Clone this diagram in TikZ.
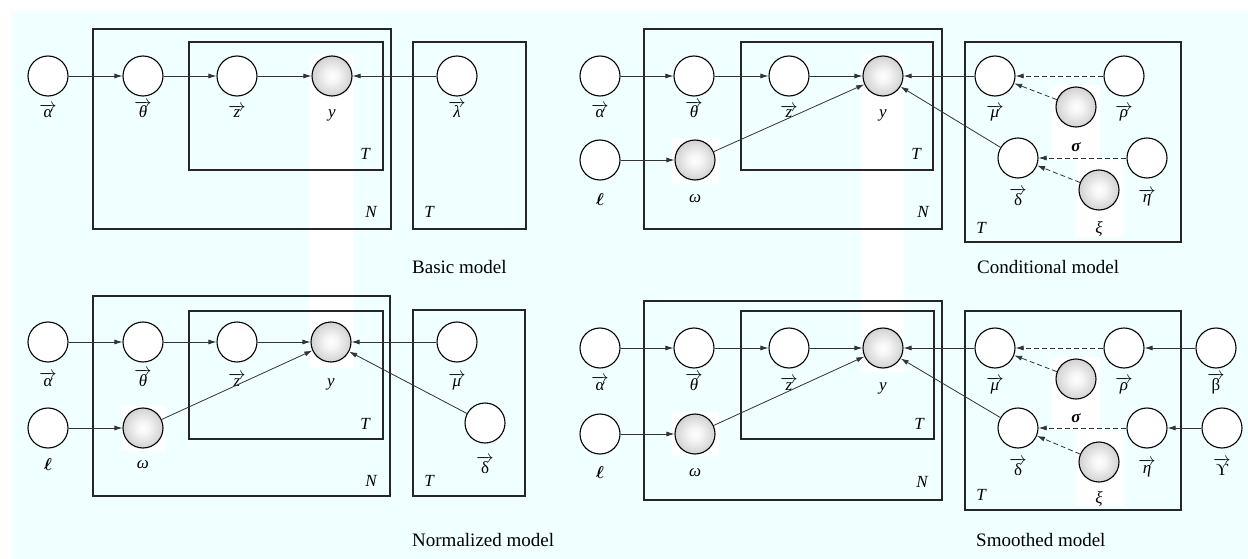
\documentclass[tikz,border=0pt]{standalone}
\usepackage{fontspec}
\setmainfont{Liberation Serif}
\usetikzlibrary{arrows.meta}
\definecolor{skybg}{RGB}{240,255,255}
\pgfdeclareradialshading{obsball}{\pgfpoint{0bp}{0bp}}{color(0bp)=(white); color(8bp)=(white!96!black); color(50bp)=(black!38)}
\newcommand{\vlab}[1]{$\overrightarrow{\mbox{#1}}$}
\newcommand{\elllab}{{\boldmath$\ell$}}
\tikzset{
  var/.style={circle,draw=black,line width=1.1pt,minimum size=40pt,inner sep=0pt,fill=white},
  obs/.style={var,shading=obsball},
  lbl/.style={anchor=base,inner sep=0pt,font=\fontsize{17}{19}\selectfont},
  plate/.style={draw=black!85,line width=1.2pt},
  platelbl/.style={anchor=base,inner sep=0pt,font=\fontsize{17}{19}\selectfont\itshape},
  caption/.style={anchor=base west,inner sep=0pt,font=\fontsize{19}{22}\selectfont},
  edge/.style={draw=black!80,line width=0.8pt,-{Latex[length=8pt,width=5pt]}},
  dedge/.style={edge,dash pattern=on 5pt off 3pt},
  blank/.style={fill=white,draw=none}
}
\begin{document}
\begin{tikzpicture}[x=1pt,y=-1pt]
\useasboundingbox (0,0) rectangle (1248,559);

% Background and white patches
\fill[skybg] (11,11) rectangle (1248,559);
\fill[blank] (310,55) rectangle (353,368);
\fill[blank] (862,55) rectangle (904,372);
\fill[blank] (121,406) rectangle (166,451);
\fill[blank] (672,138) rectangle (719,184);
\fill[blank] (672,412) rectangle (719,456);
\fill[blank] (1052,85) rectangle (1100,160);
\fill[blank] (1075,160) rectangle (1123,237);
\fill[blank] (1052,357) rectangle (1100,430);
\fill[blank] (1075,430) rectangle (1123,506);

% ---------------- Basic model ----------------
% Drawing plates
\draw[plate] (93,29) rectangle (391,229);
\draw[plate] (189,42) rectangle (383,170);
\draw[plate] (413,42) rectangle (526,229);
\node[platelbl] (baTin) at (365,160) {T};
\node[platelbl] (baN) at (371,217) {N};
\node[platelbl] (baTout) at (429,217) {T};

% Marking nodes
\node[var] (baalpha) at (48,76) {};
\node[var] (batheta) at (143,76) {};
\node[var] (baz) at (237,76) {};
\node[obs] (bay) at (332,76) {};
\node[var] (balambda) at (457,76) {};
\node[lbl] (balalpha) at (48,118) {\vlab{\itshape α}};
\node[lbl] (baltheta) at (143,118) {\vlab{\itshape θ}};
\node[lbl] (balz) at (237,118) {\vlab{\itshape z}};
\node[lbl] (baly) at (332,118) {\itshape y};
\node[lbl] (ballambda) at (457,118) {\vlab{\itshape λ}};

% Drawing edges
\draw[edge] (baalpha) -- (batheta);
\draw[edge] (batheta) -- (baz);
\draw[edge] (baz) -- (bay);
\draw[edge] (balambda) -- (bay);

\node[caption] (bacap) at (412,273) {Basic model};

% ---------------- Normalized model ----------------
% Drawing plates
\draw[plate] (93,296) rectangle (390,496);
\draw[plate] (189,311) rectangle (383,439);
\draw[plate] (413,310) rectangle (525,496);
\node[platelbl] (noTin) at (365,429) {T};
\node[platelbl] (noN) at (371,486) {N};
\node[platelbl] (noTout) at (429,486) {T};

% Marking nodes
\node[var] (noalpha) at (48,342) {};
\node[var] (notheta) at (143,342) {};
\node[var] (noz) at (237,342) {};
\node[obs] (noy) at (331,342) {};
\node[var] (nomu) at (457,342) {};
\node[var] (noell) at (48,428) {};
\node[obs] (noomega) at (143,428) {};
\node[var] (nodelta) at (485,423) {};
\node[lbl] (nolalpha) at (48,386) {\vlab{\itshape α}};
\node[lbl] (noltheta) at (143,386) {\vlab{\itshape θ}};
\node[lbl] (nolz) at (237,386) {\vlab{\itshape z}};
\node[lbl] (noly) at (331,386) {\itshape y};
\node[lbl] (nolmu) at (457,386) {\vlab{\itshape μ}};
\node[lbl] (nolell) at (48,470) {\elllab};
\node[lbl] (nolomega) at (143,468) {\itshape ω};
\node[lbl] (noldelta) at (485,473) {\vlab{δ}};

% Drawing edges
\draw[edge] (noalpha) -- (notheta);
\draw[edge] (notheta) -- (noz);
\draw[edge] (noz) -- (noy);
\draw[edge] (nomu) -- (noy);
\draw[edge] (noell) -- (noomega);
\draw[edge] (noomega) -- (noy);
\draw[edge] (nodelta) -- (noy);

\node[caption] (nocap) at (412,546) {Normalized model};

% ---------------- Conditional model ----------------
% Drawing plates
\draw[plate] (644,29) rectangle (942,229);
\draw[plate] (741,42) rectangle (933,170);
\draw[plate] (965,42) rectangle (1181,242);
\node[platelbl] (coTin) at (916,160) {T};
\node[platelbl] (coN) at (923,217) {N};
\node[platelbl] (coTout) at (981,233) {T};

% Marking nodes
\node[var] (coalpha) at (600,76) {};
\node[var] (cotheta) at (694,76) {};
\node[var] (coz) at (789,76) {};
\node[obs] (coy) at (883,76) {};
\node[var] (comu) at (995,76) {};
\node[var] (corho) at (1124,76) {};
\node[obs] (cosigma) at (1076,107) {};
\node[var] (coell) at (600,160) {};
\node[obs] (coomega) at (695,160) {};
\node[var] (codelta) at (1018,158) {};
\node[var] (coeta) at (1147,158) {};
\node[obs] (coxi) at (1099,190) {};
\node[lbl] (colalpha) at (600,118) {\vlab{\itshape α}};
\node[lbl] (coltheta) at (694,118) {\vlab{\itshape θ}};
\node[lbl] (colz) at (789,118) {\vlab{\itshape z}};
\node[lbl] (coly) at (883,118) {\itshape y};
\node[lbl] (colmu) at (995,118) {\vlab{\itshape μ}};
\node[lbl] (colrho) at (1124,118) {\vlab{\itshape ρ}};
\node[lbl] (colsigma) at (1076,152) {\bfseries\itshape σ};
\node[lbl] (colell) at (600,205) {\elllab};
\node[lbl] (colomega) at (695,202) {\itshape ω};
\node[lbl] (coldelta) at (1018,205) {\vlab{δ}};
\node[lbl] (coleta) at (1147,203) {\vlab{\itshape η}};
\node[lbl] (colxi) at (1099,233) {\itshape ξ};

% Drawing edges
\draw[edge] (coalpha) -- (cotheta);
\draw[edge] (cotheta) -- (coz);
\draw[edge] (coz) -- (coy);
\draw[edge] (comu) -- (coy);
\draw[edge] (coell) -- (coomega);
\draw[edge] (coomega) -- (coy);
\draw[edge] (codelta) -- (coy);
\draw[dedge] (corho) -- (comu);
\draw[dedge] (cosigma) -- (comu);
\draw[dedge] (coeta) -- (codelta);
\draw[dedge] (coxi) -- (codelta);

\node[caption] (cocap) at (977,273) {Conditional model};

% ---------------- Smoothed model ----------------
% Drawing plates
\draw[plate] (644,301) rectangle (942,500);
\draw[plate] (741,311) rectangle (934,439);
\draw[plate] (965,311) rectangle (1181,510);
\node[platelbl] (smTin) at (919,429) {T};
\node[platelbl] (smN) at (922,487) {N};
\node[platelbl] (smTout) at (981,500) {T};

% Marking nodes
\node[var] (smalpha) at (600,348) {};
\node[var] (smtheta) at (694,348) {};
\node[var] (smz) at (789,348) {};
\node[obs] (smy) at (883,348) {};
\node[var] (smmu) at (995,348) {};
\node[var] (smrho) at (1124,348) {};
\node[var] (smbeta) at (1216,348) {};
\node[obs] (smsigma) at (1076,379) {};
\node[var] (smell) at (600,434) {};
\node[obs] (smomega) at (695,434) {};
\node[var] (smdelta) at (1018,428) {};
\node[var] (smeta) at (1147,428) {};
\node[var] (smupsilon) at (1222,428) {};
\node[obs] (smxi) at (1099,462) {};
\node[lbl] (smlalpha) at (600,390) {\vlab{\itshape α}};
\node[lbl] (smltheta) at (694,390) {\vlab{\itshape θ}};
\node[lbl] (smlz) at (789,390) {\vlab{\itshape z}};
\node[lbl] (smly) at (883,390) {\itshape y};
\node[lbl] (smlmu) at (995,390) {\vlab{\itshape μ}};
\node[lbl] (smlrho) at (1124,390) {\vlab{\itshape ρ}};
\node[lbl] (smlbeta) at (1216,390) {\vlab{β}};
\node[lbl] (smlsigma) at (1076,422) {\bfseries\itshape σ};
\node[lbl] (smlell) at (600,478) {\elllab};
\node[lbl] (smlomega) at (695,476) {\itshape ω};
\node[lbl] (smldelta) at (1018,475) {\vlab{δ}};
\node[lbl] (smleta) at (1147,473) {\vlab{\itshape η}};
\node[lbl] (smlupsilon) at (1222,475) {\vlab{ϒ}};
\node[lbl] (smlxi) at (1099,503) {\itshape ξ};

% Drawing edges
\draw[edge] (smalpha) -- (smtheta);
\draw[edge] (smtheta) -- (smz);
\draw[edge] (smz) -- (smy);
\draw[edge] (smmu) -- (smy);
\draw[edge] (smell) -- (smomega);
\draw[edge] (smomega) -- (smy);
\draw[edge] (smdelta) -- (smy);
\draw[dedge] (smrho) -- (smmu);
\draw[dedge] (smsigma) -- (smmu);
\draw[dedge] (smeta) -- (smdelta);
\draw[dedge] (smxi) -- (smdelta);
\draw[edge] (smbeta) -- (smrho);
\draw[edge] (smupsilon) -- (smeta);

\node[caption] (smcap) at (976,546) {Smoothed model};
\end{tikzpicture}
\end{document}
